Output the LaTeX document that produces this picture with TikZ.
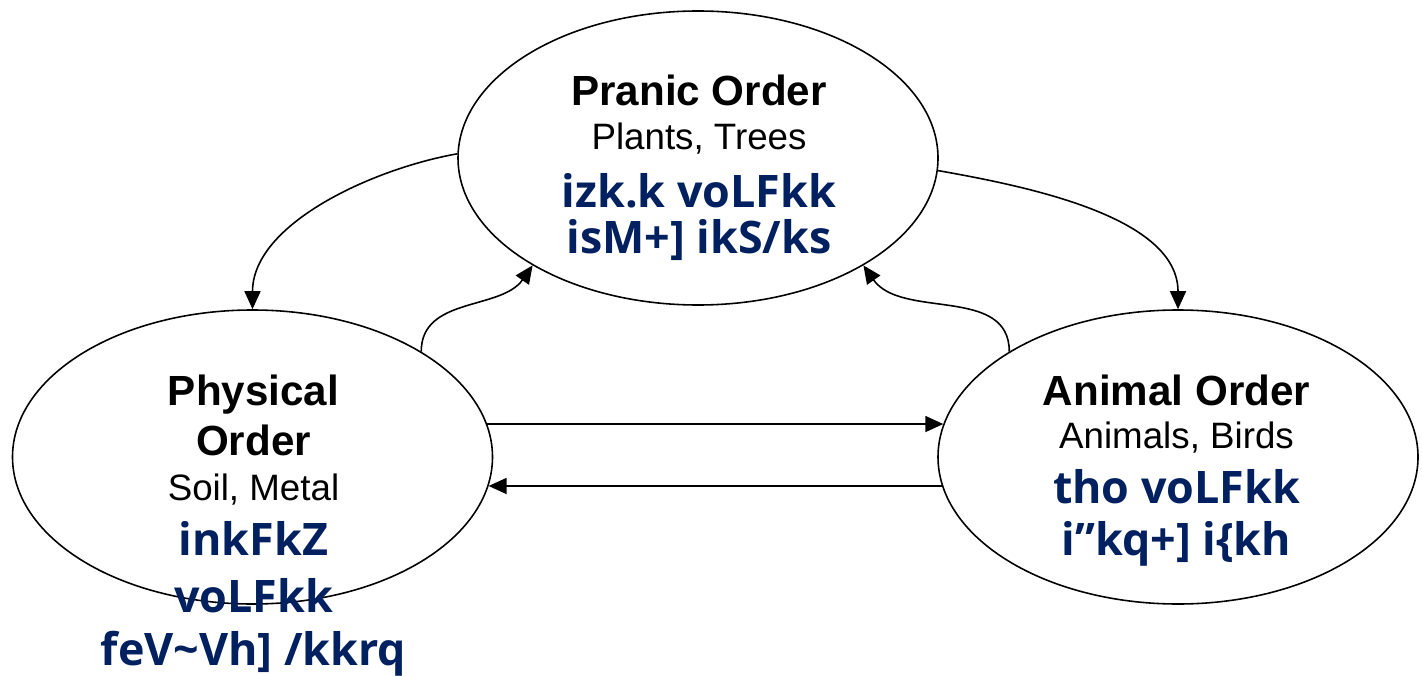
\documentclass[tikz,border=0pt]{standalone}
\usepackage{fontspec}
\setmainfont{Liberation Sans}
\newfontfamily\kruti{Open Sans}
\usetikzlibrary{shapes.geometric}
\usetikzlibrary{arrows.meta}
\definecolor{krutiblue}{RGB}{0,32,96}

\begin{document}
\begin{tikzpicture}[>={Triangle[length=0.36cm,width=0.32cm]}, line width=0.9pt]
	\tikzstyle{order}=[draw,shape=ellipse,minimum width=9.6cm,minimum height=5.88cm]
	\tikzstyle{head}=[anchor=base,font=\bfseries\fontsize{24}{28}\selectfont]
	\tikzstyle{members}=[anchor=base,font=\fontsize{20.9}{25}\selectfont]
	\tikzstyle{hindi}=[anchor=base,text=krutiblue,font=\kruti\bfseries\fontsize{25.5}{30}\selectfont]
	
	\useasboundingbox (0,0) rectangle (28.44,13.5);
	
	\node[order](pranic) at (13.96,10.34){};
	\node[order](physical) at (5.05,4.36){};
	\node[order](animal) at (23.56,4.36){};
	
	\node[head](pranicName) at (13.98,11.38){Pranic Order};
	\node[members](pranicKinds) at (13.98,10.5){Plants, Trees};
	\node[hindi](pranicHindiA) at (13.98,9.36){izk.k voLFkk};
	\node[hindi](pranicHindiB) at (13.98,8.44){isM+] ikS/ks};
	
	\node[head](physicalNameA) at (5.07,5.4){Physical};
	\node[head](physicalNameB) at (5.07,4.4){Order};
	\node[members](physicalKinds) at (5.07,3.5){Soil, Metal};
	\node[hindi](physicalHindiA) at (5.07,2.4){inkFkZ};
	\node[hindi](physicalHindiB) at (5.07,1.26){voLFkk};
	\node[hindi](physicalHindiC) at (5.07,0.2){feV\textasciitilde Vh] /kkrq};
	
	\node[head](animalName) at (23.53,5.4){Animal Order};
	\node[members](animalKinds) at (23.53,4.54){Animals, Birds};
	\node[hindi](animalHindiA) at (23.53,3.44){tho voLFkk};
	\node[hindi](animalHindiB) at (23.53,2.4){i”kq+] i\{kh};
	
	\draw[->] (pranic.179) to[out=190,in=90,looseness=0.85] (physical.north);
	\draw[->] (pranic.-3) to[out=-10,in=90,looseness=0.85] (animal.north);
	
	\draw[->] (physical.32) to[out=90,in=235] (pranic.213);
	\draw[->] (animal.148) to[out=90,in=-55] (pranic.-33);
	
	\draw[->] (physical.8) -- (animal.172);
	\draw[->] (animal.187) -- (physical.-7);
\end{tikzpicture}
\end{document}
